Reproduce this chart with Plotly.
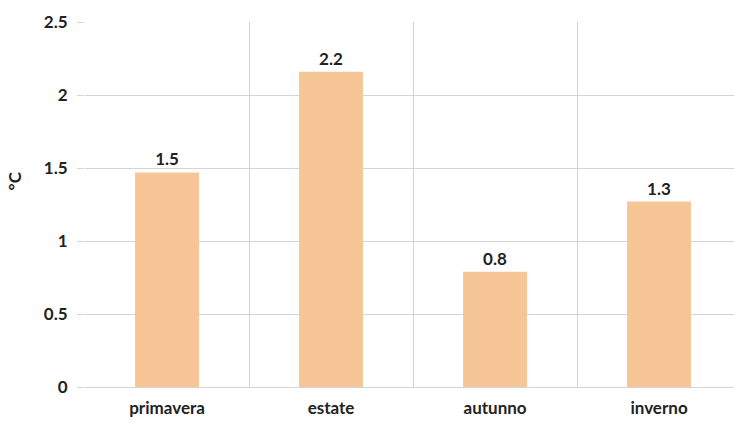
import plotly.graph_objects as go

categories = ["primavera", "estate", "autunno", "inverno"]
values = [1.47, 2.16, 0.79, 1.27]
y_ticks = [0, 0.5, 1, 1.5, 2, 2.5]
y_tick_labels = ["0", "0.5", "1", "1.5", "2", "2.5"]
y_title = "°C"

FONT = "Lato"
SIZE = 17
bold = dict(family=FONT, size=SIZE, color="#222222", weight="bold")

fig = go.Figure(go.Bar(
    x=categories, y=values,
    marker=dict(color="#F6C697", line=dict(width=0)),
    width=0.39,
    texttemplate="%{y:.1f}", textposition="outside",
    textfont=bold,
    cliponaxis=False,
))

fig.update_layout(
    width=734, height=422,
    margin=dict(l=85, r=0, t=22, b=35),
    paper_bgcolor="white", plot_bgcolor="white",
    font=dict(family=FONT, size=SIZE, color="#222222"),
    showlegend=False,
    xaxis=dict(
        range=[-0.5, 3.457],
        tickson="boundaries", showgrid=True, gridcolor="#d4d4d4", gridwidth=1,
        ticks="", showline=False, zeroline=False,
        ticklabelstandoff=9,
        tickfont=bold,
    ),
    yaxis=dict(
        range=[0, 2.5], tickvals=y_ticks, ticktext=y_tick_labels,
        showgrid=True, gridcolor="#d4d4d4", gridwidth=1,
        zeroline=True, zerolinecolor="#d4d4d4", zerolinewidth=1,
        ticks="outside", ticklen=7, tickcolor="#d4d4d4",
        ticklabelstandoff=6,
        tickfont=bold,
    ),
    annotations=[dict(
        text=y_title, textangle=-90, xref="paper", yref="paper",
        x=-0.109, y=0.564, xanchor="center", yanchor="middle",
        showarrow=False, font=bold,
    )],
)

fig.write_html("out.html")
